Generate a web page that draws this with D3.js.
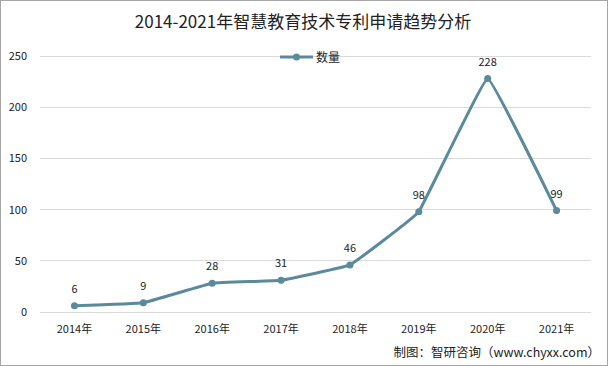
<!DOCTYPE html>
<html><head><meta charset="utf-8">
<script src="https://cdn.jsdelivr.net/npm/d3@7"></script>
<style>body{margin:0;background:#fff}svg{display:block;font-family:"Noto Sans CJK SC","Noto Sans",sans-serif}</style>
</head><body><svg id="c" width="608" height="366"></svg>
<script>
const categories = ["2014年","2015年","2016年","2017年","2018年","2019年","2020年","2021年"];
const values = [6, 9, 28, 31, 46, 98, 228, 99];
const yTicks = [0, 50, 100, 150, 200, 250];
const seriesName = "数量";
const title = "2014-2021年智慧教育技术专利申请趋势分析";
const source = "制图：智研咨询（www.chyxx.com）";

const svg = d3.select("#c");
const color = "#5b8a9c";
svg.append("rect").attr("x",0.5).attr("y",0.5).attr("width",607).attr("height",365).attr("fill","#fff").attr("stroke","#a6a6a6");

const x = d3.scaleBand().domain(categories).range([40, 591]);
const y = d3.scaleLinear().domain([0, 250]).range([312, 56]);

svg.append("text").attr("x", 303).attr("y", 28).attr("text-anchor","middle").attr("font-size",17).attr("fill","#222").text(title);

const g = svg.append("g");
g.selectAll("line.grid").data(yTicks).join("line").attr("class","grid")
  .attr("x1",40).attr("x2",591).attr("y1",d=>y(d)).attr("y2",d=>y(d))
  .attr("stroke","#d9d9d9").attr("stroke-width",1).attr("shape-rendering","crispEdges");
g.selectAll("text.yl").data(yTicks).join("text").attr("class","yl")
  .attr("x",27).attr("y",d=>y(d)+4).attr("text-anchor","end").attr("font-size",11).attr("fill","#222").text(d=>d);
g.selectAll("text.xl").data(categories).join("text").attr("class","xl")
  .attr("x",d=>x(d)+x.bandwidth()/2).attr("y",333).attr("text-anchor","middle").attr("font-size",11).attr("fill","#222").text(d=>d);

const pts = categories.map((c,i)=>[x(c)+x.bandwidth()/2, y(values[i])]);
const line = d3.line().curve(d3.curveCardinal.tension(0.8));
g.append("path").attr("d", line(pts)).attr("fill","none").attr("stroke",color).attr("stroke-width",3).attr("stroke-linejoin","round");
g.selectAll("circle.pt").data(pts).join("circle").attr("class","pt").attr("cx",d=>d[0]).attr("cy",d=>d[1]).attr("r",3.5).attr("fill",color);
g.selectAll("text.lab").data(values).join("text").attr("class","lab")
  .attr("x",(d,i)=>pts[i][0]).attr("y",(d,i)=>pts[i][1]-13).attr("text-anchor","middle").attr("font-size",11).attr("fill","#222").text(d=>d);

// legend
const lg = svg.append("g");
lg.append("line").attr("x1",280).attr("x2",313).attr("y1",57).attr("y2",57).attr("stroke",color).attr("stroke-width",3);
lg.append("circle").attr("cx",296.5).attr("cy",57).attr("r",3.5).attr("fill",color);
lg.append("text").attr("x",316).attr("y",61.5).attr("font-size",12).attr("fill","#222").text(seriesName);

svg.append("text").attr("x",600).attr("y",357).attr("text-anchor","end").attr("font-size",12.5).attr("fill","#222").text(source);
</script></body></html>
